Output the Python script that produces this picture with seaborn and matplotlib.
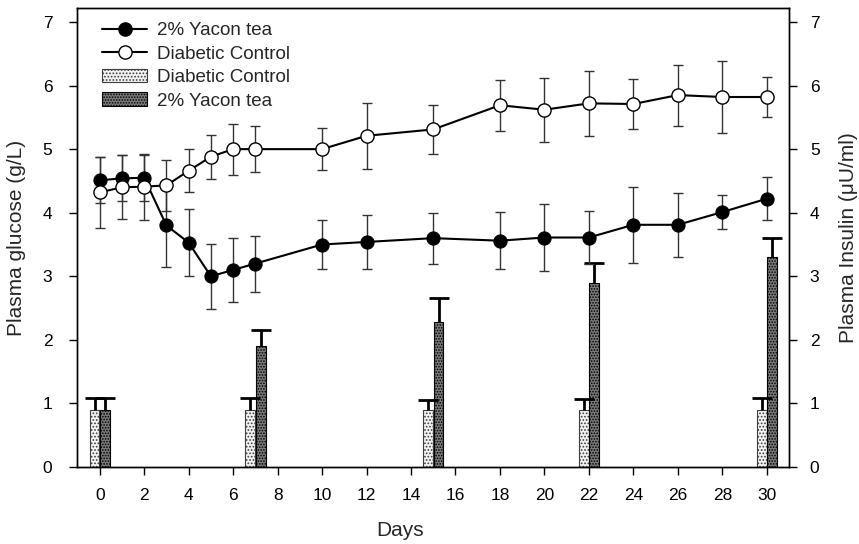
import numpy as np
import pandas as pd
import matplotlib
matplotlib.use("Agg")
import matplotlib.pyplot as plt
from matplotlib.lines import Line2D
from matplotlib.patches import Patch
import seaborn as sns

# glucose time course (g/L)
days = [0, 1, 2, 3, 4, 5, 6, 7, 10, 12, 15, 18, 20, 22, 24, 26, 28, 30]
yacon_glu = [4.51, 4.54, 4.55, 3.80, 3.53, 3.00, 3.10, 3.20, 3.50, 3.54, 3.60,
             3.56, 3.61, 3.61, 3.81, 3.81, 4.01, 4.22]
yacon_glu_err = [0.36, 0.36, 0.36, 0.65, 0.53, 0.51, 0.50, 0.44, 0.39, 0.42, 0.40,
                 0.45, 0.52, 0.41, 0.60, 0.50, 0.27, 0.34]
control_glu = [4.32, 4.40, 4.41, 4.43, 4.66, 4.88, 5.00, 5.00, 5.00, 5.21, 5.31,
               5.69, 5.62, 5.72, 5.71, 5.85, 5.82, 5.82]
control_glu_err = [0.56, 0.50, 0.52, 0.40, 0.34, 0.35, 0.40, 0.36, 0.33, 0.52, 0.38,
                   0.40, 0.50, 0.51, 0.40, 0.48, 0.56, 0.31]

# insulin (uU/ml)
ins_days = [0, 7, 15, 22, 30]
control_ins = [0.89, 0.89, 0.89, 0.89, 0.89]
control_ins_err = [0.19, 0.19, 0.16, 0.18, 0.20]
yacon_ins = [0.89, 1.90, 2.28, 2.90, 3.30]
yacon_ins_err = [0.19, 0.25, 0.38, 0.31, 0.31]

sns.set_style("ticks")
plt.rcParams['font.family'] = ['Liberation Sans', 'DejaVu Sans']
plt.rcParams['hatch.linewidth'] = 0.8

fig = plt.figure(figsize=(8.59, 5.44), dpi=100)
ax = fig.add_axes([0.0902, 0.1415, 0.8283, 0.8438])
ax2 = ax.twinx()


def upper_errorbar(a, x, y, err):
    # one-sided (upward) error bars, as on the insulin bars
    _, caps, _ = a.errorbar(x, y, yerr=[np.zeros(len(err)), err], fmt='none',
                            ecolor='black', elinewidth=2, capsize=7, capthick=2,
                            zorder=3)
    caps[0].set_visible(False)


# bars on the insulin axis
bar_w = 0.44
ctrl_x = np.array(ins_days) - 0.23
yac_x = np.array(ins_days) + 0.24
ax2.bar(ctrl_x, control_ins, width=bar_w, facecolor='#f2f2f2', edgecolor='#3c3c3c',
        hatch='.....', linewidth=0.8, zorder=2)
ax2.bar(yac_x, yacon_ins, width=bar_w, facecolor='#7a7a7a', edgecolor='black',
        hatch='......', linewidth=0.8, zorder=2)
upper_errorbar(ax2, ctrl_x, control_ins, control_ins_err)
upper_errorbar(ax2, yac_x, yacon_ins, yacon_ins_err)

# glucose lines, drawn over the bars
ax.set_zorder(ax2.get_zorder() + 1)
ax.patch.set_visible(False)
df = pd.DataFrame({"Days": days, "yacon": yacon_glu, "control": control_glu})
ax.errorbar(days, yacon_glu, yerr=yacon_glu_err, fmt='none', ecolor='#333333',
            elinewidth=1, capsize=3.5, capthick=1, zorder=2)
ax.errorbar(days, control_glu, yerr=control_glu_err, fmt='none', ecolor='#333333',
            elinewidth=1, capsize=3.5, capthick=1, zorder=2)
sns.lineplot(data=df, x="Days", y="yacon", ax=ax, color='black', linewidth=1.5,
             marker='o', markersize=9.5, markerfacecolor='black',
             markeredgecolor='black', errorbar=None, zorder=4)
sns.lineplot(data=df, x="Days", y="control", ax=ax, color='black', linewidth=1.5,
             marker='o', markersize=9.5, markerfacecolor='white',
             markeredgecolor='black', markeredgewidth=1, errorbar=None, zorder=4)

for a in (ax, ax2):
    a.set_ylim(0, 7.22)
    a.set_yticks(range(0, 8))
    a.tick_params(axis='both', direction='out', length=6, width=1, labelsize=12.5,
                  colors='black')
ax.set_xlim(-1, 31)
ax.set_xticks(range(0, 31, 2))
ax.tick_params(axis='y', pad=12)
ax.tick_params(axis='x', pad=9)
ax2.tick_params(axis='y', pad=9)

for a in (ax, ax2):
    for s in a.spines.values():
        s.set_visible(True)
        s.set_color('black')
        s.set_linewidth(1)

ax.set_xlabel("Days", fontsize=15)
ax.xaxis.set_label_coords(0.453, -0.117)
ax.set_ylabel("Plasma glucose (g/L)", fontsize=15, labelpad=12)
ax2.set_ylabel("Plasma Insulin (\u03bcU/ml)", fontsize=15, labelpad=14)

handles = [
    Line2D([], [], color='black', lw=1.5, marker='o', markersize=9.5,
           markerfacecolor='black'),
    Line2D([], [], color='black', lw=1.5, marker='o', markersize=9.5,
           markerfacecolor='white', markeredgewidth=1),
    Patch(facecolor='#f2f2f2', edgecolor='#3c3c3c', hatch='.....', linewidth=0.8),
    Patch(facecolor='#7a7a7a', edgecolor='black', hatch='......', linewidth=0.8),
]
labels = ["2% Yacon tea", "Diabetic Control", "Diabetic Control", "2% Yacon tea"]
ax.legend(handles, labels, loc='upper left', bbox_to_anchor=(0.034, 0.9695),
          frameon=False, fontsize=13.5, handlelength=2.44, handletextpad=0.53,
          labelspacing=0.34, borderpad=0, borderaxespad=0)

fig.savefig("out.png", dpi=100)
